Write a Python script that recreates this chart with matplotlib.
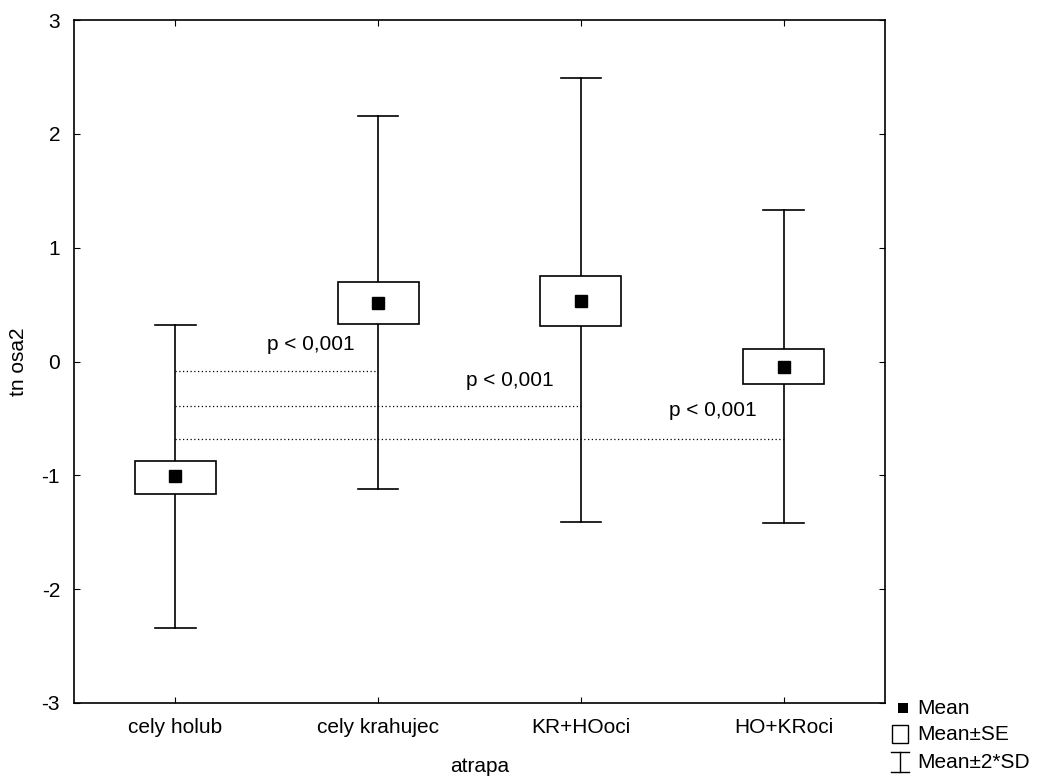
import numpy as np
import matplotlib
matplotlib.use("Agg")
import matplotlib.pyplot as plt
from matplotlib.patches import Rectangle
from matplotlib.lines import Line2D

plt.rcParams['font.family'] = ['Liberation Sans', 'DejaVu Sans']

# data
groups = ['cely holub', 'cely krahujec', 'KR+HOoci', 'HO+KRoci']
means = [-1.01, 0.51, 0.53, -0.05]
se_lo = [-1.16, 0.33, 0.31, -0.20]
se_hi = [-0.87, 0.70, 0.75, 0.11]
sd_lo = [-2.34, -1.12, -1.41, -1.42]
sd_hi = [0.32, 2.16, 2.49, 1.33]

# significance lines: level, from group 0 to group sig_to
sig_y = [-0.08, -0.39, -0.68]
sig_to = [1, 2, 3]
sig_text = ['p < 0,001', 'p < 0,001', 'p < 0,001']
sig_text_x = [0.67, 1.65, 2.65]
sig_text_y = [0.15, -0.17, -0.43]

legend_labels = ['Mean', 'Mean±SE', 'Mean±2*SD']

fs = 15
W, H = 1040, 778

fig = plt.figure(figsize=(10.4, 7.78), dpi=100)
ax = fig.add_axes([74/W, 75/H, 811/W, 683/H])

x = np.arange(len(groups))
box_w = 0.4
cap_w = 0.2
for i in x:
    ax.plot([i, i], [sd_lo[i], sd_hi[i]], color='black', lw=1.2, zorder=2)
    ax.plot([i - cap_w/2, i + cap_w/2], [sd_hi[i], sd_hi[i]], color='black', lw=1.2, zorder=2)
    ax.plot([i - cap_w/2, i + cap_w/2], [sd_lo[i], sd_lo[i]], color='black', lw=1.2, zorder=2)
    ax.add_patch(Rectangle((i - box_w/2, se_lo[i]), box_w, se_hi[i] - se_lo[i],
                           facecolor='white', edgecolor='black', lw=1.2, zorder=3))
ax.plot(x, means, 's', color='black', ms=8, zorder=4, linestyle='none')

for k in range(len(sig_y)):
    ax.plot([0, sig_to[k]], [sig_y[k], sig_y[k]], color='black', lw=0.9,
            linestyle=(0, (1, 2)), zorder=1)
    ax.text(sig_text_x[k], sig_text_y[k], sig_text[k], fontsize=fs, ha='center', va='center')

ax.set_xlim(-0.5, 3.5)
ax.set_ylim(-3, 3)
ax.set_xticks(x)
ax.set_xticklabels(groups, fontsize=fs)
ax.set_yticks([-3, -2, -1, 0, 1, 2, 3])
ax.set_yticklabels(['-3', '-2', '-1', '0', '1', '2', '3'], fontsize=fs)
ax.tick_params(direction='in', length=4, top=True, right=True)
ax.tick_params(axis='y', pad=10)
ax.tick_params(axis='x', pad=11)
for s in ax.spines.values():
    s.set_linewidth(1.2)
ax.set_xlabel('atrapa', fontsize=fs, labelpad=14)
ax.set_ylabel('tn osa2', fontsize=fs, labelpad=10)

# legend drawn by hand (pixel positions converted to figure fractions)
def fx(px):
    return px / W

def fy(py):
    return 1 - py / H

rows = [708, 734, 762]
tf = fig.transFigure
# Mean: filled square
fig.add_artist(Rectangle((fx(898), fy(713)), 10/W, 10/H, transform=tf,
                         facecolor='black', edgecolor='black', lw=0))
# Mean±SE: open box
fig.add_artist(Rectangle((fx(892), fy(743)), 16/W, 18/H, transform=tf,
                         facecolor='white', edgecolor='black', lw=1.0))
# Mean±2*SD: whisker
fig.add_artist(Line2D([fx(900), fx(900)], [fy(752), fy(772)], transform=tf, color='black', lw=1.0))
fig.add_artist(Line2D([fx(891), fx(909)], [fy(752), fy(752)], transform=tf, color='black', lw=1.0))
fig.add_artist(Line2D([fx(891), fx(909)], [fy(772), fy(772)], transform=tf, color='black', lw=1.0))
for r, lab in zip(rows, legend_labels):
    fig.text(fx(917), fy(r), lab, fontsize=fs, ha='left', va='center')

fig.savefig('out.png', dpi=100)
